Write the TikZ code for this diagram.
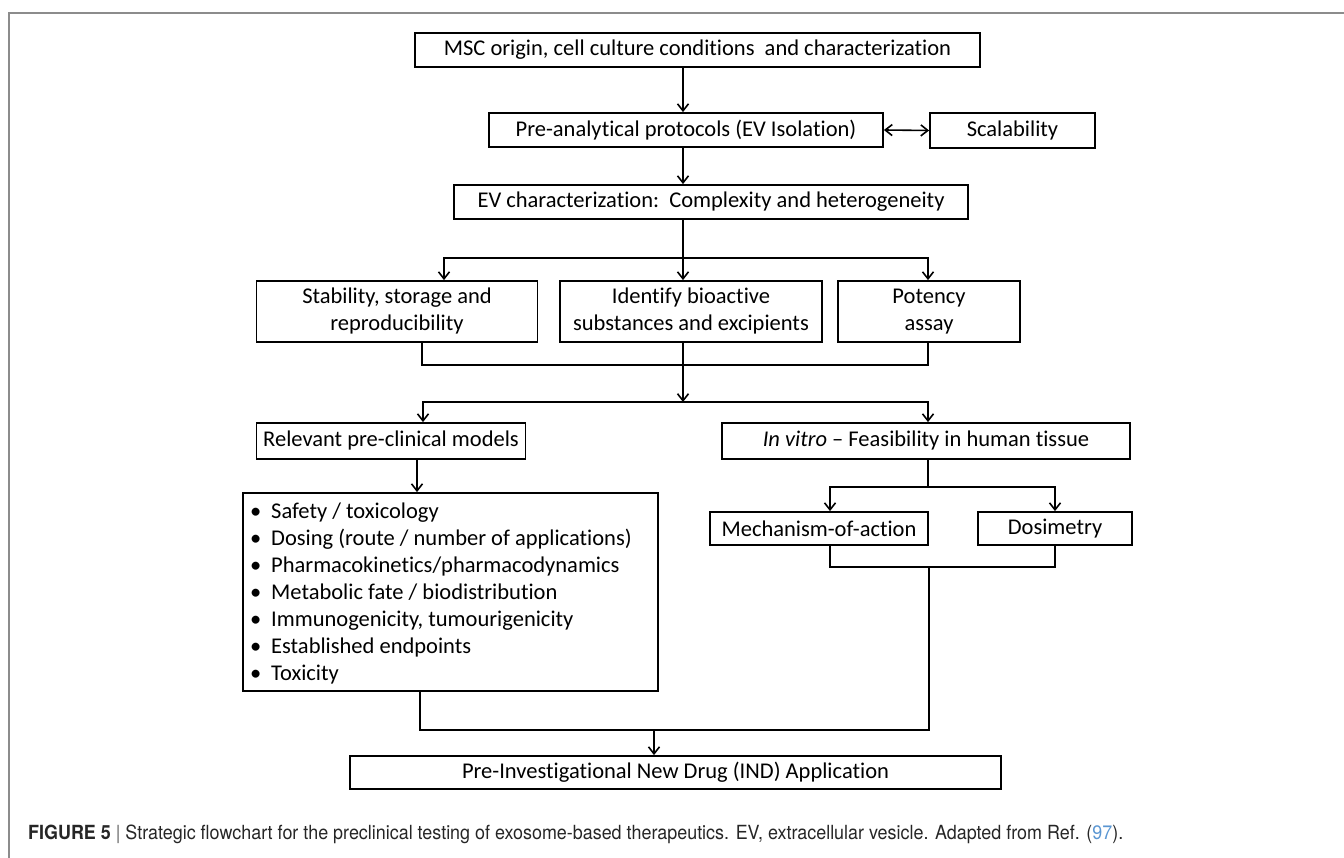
\documentclass[tikz,border=0pt]{standalone}
\usepackage{fontspec}
\usepackage{graphicx}
\setmainfont{Carlito}[Ligatures={NoCommon}]
\newfontfamily\capfont{TeX Gyre Heros}
\usetikzlibrary{arrows.meta,calc}
\definecolor{framegray}{RGB}{140,140,140}
\definecolor{refblue}{RGB}{90,150,210}
\begin{document}
\begin{tikzpicture}[x=1pt,y=-1pt,
  box/.style={draw, line width=1.8pt, inner sep=0pt, align=center, font=\fontsize{22.5}{27}\selectfont},
  conn/.style={line width=1.6pt, line cap=rect},
  arr/.style={line width=1.6pt, -{Straight Barb[length=7pt,width=11pt]}},
  dblarr/.style={line width=1.6pt, {Straight Barb[length=7pt,width=11pt]}-{Straight Barb[length=7pt,width=11pt]}},
  bl/.style={anchor=base west, inner sep=0pt, font=\fontsize{22.5}{27}\selectfont},
]
\useasboundingbox (0,0) rectangle (1344,858);
\draw[framegray, line width=2pt] (9,858) -- (9,13) -- (1344,13);

% boxes
\node[box, minimum width=565, minimum height=34] (msc) at (697.5,50) {MSC origin, cell culture conditions\ \ and characterization};
\node[box, minimum width=394, minimum height=34] (pre) at (686,130) {Pre-analytical protocols (EV Isolation)};
\node[box, minimum width=165, minimum height=35] (scal) at (1012.5,130.5) {Scalability};
\node[box, minimum width=514, minimum height=34] (ev) at (711,202) {EV characterization:\ \ Complexity and heterogeneity};
\node[box, minimum width=281, minimum height=61] (stab) at (397,311.5) {Stability, storage and\\reproducibility};
\node[box, minimum width=262, minimum height=61] (iden) at (691,311.5) {Identify bioactive\\substances and excipients};
\node[box, minimum width=182, minimum height=61] (pot) at (929,311.5) {Potency\\assay};
\node[box, minimum width=269, minimum height=36] (rel) at (391,441) {Relevant pre-clinical models};
\node[box, minimum width=408, minimum height=36] (inv) at (926,441) {\textit{In vitro} -- Feasibility in human tissue};
\node[box, minimum width=415, minimum height=198] (bul) at (450.5,592) {};
\node[box, minimum width=218, minimum height=33] (mech) at (819,528.5) {Mechanism-of-action};
\node[box, minimum width=154, minimum height=33] (dos) at (1055,528.5) {Dosimetry};
\node[box, minimum width=651, minimum height=33] (ind) at (675.5,772.5) {Pre-Investigational New Drug (IND) Application};

% bullet lines
\node[bl] (b1) at (250,518) {\makebox[21pt][l]{•}Safety / toxicology};
\node[bl] (b2) at (250,545) {\makebox[21pt][l]{•}Dosing (route / number of applications)};
\node[bl] (b3) at (250,572) {\makebox[21pt][l]{•}Pharmacokinetics/pharmacodynamics};
\node[bl] (b4) at (250,599) {\makebox[21pt][l]{•}Metabolic fate / biodistribution};
\node[bl] (b5) at (250,626) {\makebox[21pt][l]{•}Immunogenicity, tumourigenicity};
\node[bl] (b6) at (250,653) {\makebox[21pt][l]{•}Established endpoints};
\node[bl] (b7) at (250,680) {\makebox[21pt][l]{•}Toxicity};

% guide coordinates
\coordinate (cM) at (683,0);
\coordinate (cL) at (444,0);
\coordinate (cR) at (928,0);
\coordinate (cL2) at (422,0);
\coordinate (cLL) at (423,0);
\coordinate (cRel) at (417,0);
\coordinate (cMech) at (830,0);
\coordinate (cDos) at (1055,0);
\coordinate (cJ) at (929,0);
\coordinate (cBL) at (420,0);
\coordinate (cInd) at (654,0);
\coordinate (s1) at (0,258);
\coordinate (s2) at (0,365);
\coordinate (s3) at (0,402);
\coordinate (s4) at (0,487);
\coordinate (s5) at (0,567);
\coordinate (s6) at (0,730);

% connectors
\draw[arr] (msc.south -| cM) -- (pre.north -| cM);
\draw[dblarr] (pre.east) -- (scal.west);
\draw[arr] (pre.south -| cM) -- (ev.north -| cM);
\draw[conn] (ev.south -| cM) -- (cM |- s1);
\draw[conn] (cL |- s1) -- (cR |- s1);
\draw[arr] (cL |- s1) -- (stab.north -| cL);
\draw[arr] (cM |- s1) -- (iden.north -| cM);
\draw[arr] (cR |- s1) -- (pot.north -| cR);
\draw[conn] (stab.south -| cL2) -- (cL2 |- s2) -- (cR |- s2) -- (pot.south -| cR);
\draw[arr] (iden.south -| cM) -- (cM |- s3);
\draw[conn] (cLL |- s3) -- (cR |- s3);
\draw[arr] (cLL |- s3) -- (rel.north -| cLL);
\draw[arr] (cR |- s3) -- (inv.north -| cR);
\draw[arr] (rel.south -| cRel) -- (bul.north -| cRel);
\draw[conn] (inv.south -| cR) -- (cR |- s4);
\draw[conn] (cMech |- s4) -- (cDos |- s4);
\draw[arr] (cMech |- s4) -- (mech.north -| cMech);
\draw[arr] (cDos |- s4) -- (dos.north -| cDos);
\draw[conn] (mech.south -| cMech) -- (cMech |- s5) -- (cDos |- s5) -- (dos.south -| cDos);
\draw[conn] (cJ |- s5) -- (cJ |- s6) -- (cBL |- s6) -- (bul.south -| cBL);
\draw[arr] (cInd |- s6) -- (ind.north -| cInd);

% caption
\node[anchor=base west, inner sep=0pt, text=black!85] (cap) at (28,839)
  {\resizebox{1095pt}{\height}{\capfont\fontsize{19.5}{20}\selectfont\textbf{FIGURE 5}\ {\color{black!60}|}\ Strategic flowchart for the preclinical testing of exosome-based therapeutics. EV, extracellular vesicle. Adapted from Ref. ({\color{refblue}97}).}};
\end{tikzpicture}
\end{document}
